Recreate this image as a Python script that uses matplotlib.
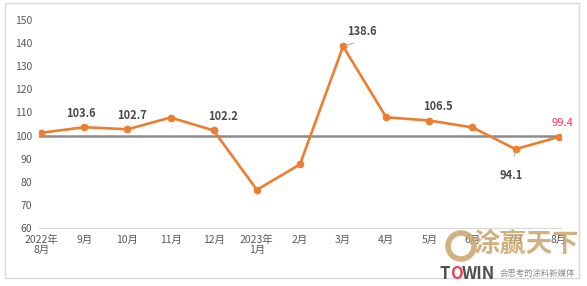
import numpy as np
import matplotlib
matplotlib.use('Agg')
import matplotlib.pyplot as plt
from matplotlib.patches import Rectangle, Circle

plt.rcParams['font.family'] = ['Noto Sans CJK SC', 'DejaVu Sans']

# data
months = ['2022年\n8月', '9月', '10月', '11月', '12月', '2023年\n1月', '2月',
          '3月', '4月', '5月', '6月', '7月', '8月']
values = [101.2, 103.6, 102.7, 107.8, 102.2, 76.5, 87.5,
          138.6, 107.9, 106.5, 103.5, 94.1, 99.4]
# which points get a label, and offset of the label (in px)
labelled = {1: (-3, 14), 2: (5, 14), 4: (9, 14), 7: (19, 15),
            9: (9, 14), 11: (-4, -26), 12: (4, 14)}
baseline = 100

fig = plt.figure(figsize=(5.87, 2.86), dpi=100)
ax = fig.add_axes([0.0665, 0.203, 0.889, 0.727])

x = np.arange(len(months))
ax.axhline(baseline, color='#8c8c8c', lw=1.8, zorder=1)
ax.plot(x, values, color='#ED7D31', lw=1.9, marker='o', ms=4.5, zorder=3)

px = 0.72
for i, (dx, dy) in labelled.items():
    last = i == len(values) - 1
    ax.annotate(f'{values[i]:.1f}', (x[i], values[i]),
                xytext=(dx * px, dy * px), textcoords='offset points',
                ha='center', va='center', fontsize=8,
                color='#FF3355' if last else '#4a4a4a',
                weight='normal' if last else 'bold')

# leader lines for 138.6 and 94.1
ax.annotate('', (x[7], values[7]), xytext=(13 * px, 4 * px),
            textcoords='offset points',
            arrowprops=dict(arrowstyle='-', color='#b0b0b0', lw=0.8))
ax.annotate('', (x[11], values[11]), xytext=(-2 * px, -10 * px),
            textcoords='offset points',
            arrowprops=dict(arrowstyle='-', color='#b0b0b0', lw=0.8))

ax.set_xlim(-0.05, len(months) - 0.95)
ax.set_ylim(60, 150)
ax.set_yticks(np.arange(60, 151, 10))
ax.set_xticks(x)
ax.set_xticklabels(months, linespacing=1.0)
for s in ['top', 'right', 'left']:
    ax.spines[s].set_visible(False)
ax.spines['bottom'].set_color('#d9d9d9')
ax.tick_params(axis='both', length=0, labelsize=7.5, colors='#595959')
ax.tick_params(axis='y', pad=5)
ax.tick_params(axis='x', pad=5)

# outer frame
fig.patches.append(Rectangle((5 / 587, 1 - 278 / 286), 574 / 587, 275 / 286,
                             transform=fig.transFigure, fill=False,
                             ec='#d9d9d9', lw=1))

# watermark
fig.patches.append(Circle((4.61, 0.40), 0.13, transform=fig.dpi_scale_trans,
                          fill=False, ec='#C9A46B', lw=4, alpha=0.85))
fig.text(526 / 587, 1 - 244 / 286, '涂赢天下', fontsize=19, color='#C9A46B',
         ha='center', va='center', weight='bold', alpha=0.85, zorder=0)
fig.text(440 / 587, 1 - 274 / 286, 'T', fontsize=12, color='#505050',
         ha='left', va='center', weight='bold')
fig.text(450 / 587, 1 - 274 / 286, 'O', fontsize=12, color='#E8434F',
         ha='left', va='center', weight='bold')
fig.text(462 / 587, 1 - 274 / 286, 'WIN', fontsize=12, color='#505050',
         ha='left', va='center', weight='bold')
fig.text(537 / 587, 1 - 273 / 286, '会思考的涂料新媒体', fontsize=6,
         color='#8a8a8a', ha='center', va='center')

fig.savefig('out.png', dpi=100)
